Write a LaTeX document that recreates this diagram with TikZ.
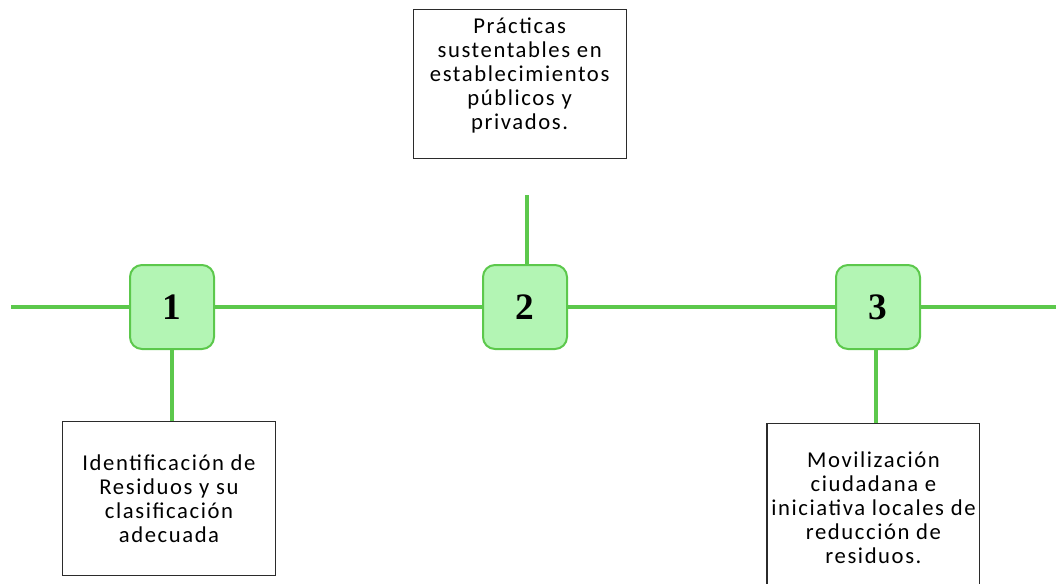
\documentclass[tikz,border=0pt]{standalone}
\usepackage{fontspec}
\setmainfont{Carlito}
\newfontfamily\boxfont[LetterSpace=7]{Carlito}
\newfontfamily\numfont{Liberation Serif}
\usepackage{xcolor}
\definecolor{cLine}{HTML}{5CC84C}
\definecolor{cFill}{HTML}{B3F5B4}
\definecolor{cEdge}{HTML}{2B2B2B}
\usepackage{tikz}
\usetikzlibrary{positioning}
\tikzset{
  node-step/.style={draw=cLine,line width=1.5pt,fill=cFill,rounded corners=9pt,
    minimum size=63pt,inner sep=0pt,font=\numfont\bfseries\fontsize{28}{28}\selectfont},
  node-box/.style={draw=cEdge,line width=0.8pt,minimum width=159.7pt,align=center,
    inner sep=2pt,font=\boxfont\fontsize{17}{18}\selectfont},
  link/.style={draw=cLine,line width=3.6pt},
}

\begin{document}
\begin{tikzpicture}[x=0.75pt,y=-0.75pt,node distance=200.25pt]
  \useasboundingbox (0,0) rectangle (1056,583);
  \coordinate (lineL) at (11,307);
  \coordinate (lineR) at (1056,307);
  \coordinate (stem2) at (527,195);
  \node[node-step]              (sq1) at (172,307) {1};
  \node[node-step,right=of sq1] (sq2) {2};
  \node[node-step,right=of sq2] (sq3) {3};
  \node[node-box,minimum height=115.5pt,below=53.25pt of sq1,xshift=-2.25pt] (box1)
    {Identificación de\\Residuos y su\\clasificación\\adecuada};
  \node[node-box,minimum height=111.75pt,text depth=16pt,above=78.75pt of sq2,xshift=-4pt] (box2)
    {Prácticas\\sustentables en\\establecimientos\\públicos y\\privados.};
  \node[node-box,minimum height=126pt,below=54.75pt of sq3,xshift=-3.4pt] (box3)
    {Movilización\\ciudadana e\\iniciativa locales de\\reducción de\\residuos.};
  \draw[link] (lineL) -- (sq1);
  \draw[link] (sq1) -- (sq2);
  \draw[link] (sq2) -- (sq3);
  \draw[link] (sq3) -- (lineR);
  \draw[link] (sq1.south) -- (sq1.south |- box1.north);
  \draw[link] (stem2) -- (stem2 |- sq2.north);
  \draw[link] ([xshift=-1.5pt]sq3.south) -- ([xshift=-1.5pt]sq3.south |- box3.north);
\end{tikzpicture}
\end{document}
